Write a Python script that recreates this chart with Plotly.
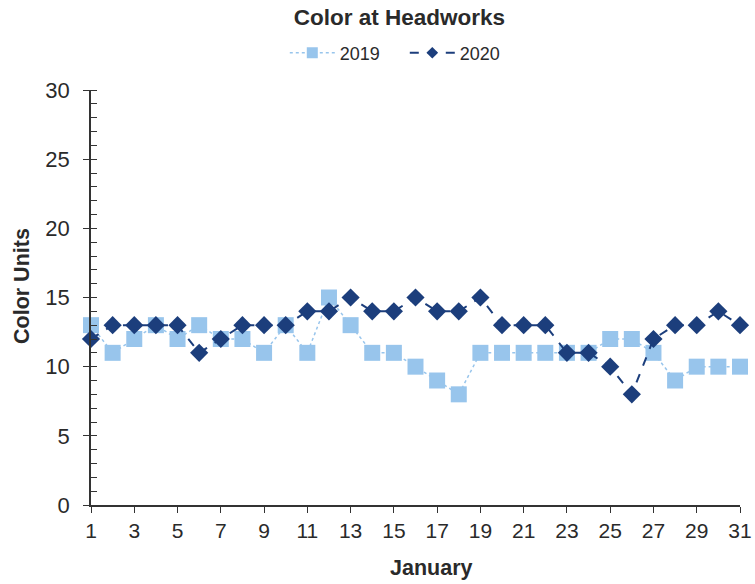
import plotly.graph_objects as go

days = list(range(1, 32))
color_2019 = [13, 11, 12, 13, 12, 13, 12, 12, 11, 13, 11, 15, 13, 11, 11, 10,
              9, 8, 11, 11, 11, 11, 11, 11, 12, 12, 11, 9, 10, 10, 10]
color_2020 = [12, 13, 13, 13, 13, 11, 12, 13, 13, 13, 14, 14, 15, 14, 14, 15,
              14, 14, 15, 13, 13, 13, 11, 11, 10, 8, 12, 13, 13, 14, 13]
x_ticks = list(range(1, 32, 2))
y_ticks = [0, 5, 10, 15, 20, 25, 30]

c19 = "#98c5ec"
c20 = "#1c3e7c"

fig = go.Figure()
fig.add_trace(go.Scatter(
    x=days, y=color_2019, name="2019", mode="lines+markers",
    line=dict(color=c19, width=1.5, dash="dot"),
    marker=dict(symbol="square", size=16, color=c19),
    cliponaxis=False, showlegend=False,
))
fig.add_trace(go.Scatter(
    x=days, y=color_2020, name="2020", mode="lines+markers",
    line=dict(color=c20, width=2, dash="dash"),
    marker=dict(symbol="diamond", size=14, color=c20),
    cliponaxis=False, showlegend=False,
))
# legend entries (smaller symbols, as in the reference legend)
fig.add_trace(go.Scatter(
    x=[None], y=[None], name="2019", mode="lines+markers",
    line=dict(color=c19, width=1.5, dash="dot"),
    marker=dict(symbol="square", size=11, color=c19),
))
fig.add_trace(go.Scatter(
    x=[None], y=[None], name="2020", mode="lines+markers",
    line=dict(color=c20, width=2, dash="dash"),
    marker=dict(symbol="diamond", size=9, color=c20),
))

font_family = "Liberation Sans, Arial, sans-serif"
fig.update_layout(
    width=755, height=584,
    margin=dict(l=91, r=15, t=90, b=79, autoexpand=False),
    paper_bgcolor="white", plot_bgcolor="white",
    font=dict(family=font_family, color="#2a2a2a", size=21),
    title=dict(text="<b>Color at Headworks</b>", x=0.529, xanchor="center",
               y=0.970, yanchor="middle", font=dict(size=22.5)),
    legend=dict(orientation="h", x=0.4835, xanchor="center", y=1.089,
                yanchor="middle", font=dict(size=18), itemwidth=45,
                entrywidth=60, tracegroupgap=0),
    showlegend=True,
    annotations=[
        dict(text="<b>January</b>", xref="paper", yref="paper",
             x=(431 - 91) / 649, y=(505 - 568) / 415,
             xanchor="center", yanchor="middle", showarrow=False,
             font=dict(size=21.5)),
        dict(text="<b>Color Units</b>", xref="paper", yref="paper",
             x=(22 - 91) / 649, y=(505 - 286) / 415, textangle=-90,
             xanchor="center", yanchor="middle", showarrow=False,
             font=dict(size=21.5)),
    ],
)
fig.update_xaxes(
    range=[1, 31], tickvals=x_ticks, ticktext=[str(v) for v in x_ticks],
    showline=True, linecolor="#333333", linewidth=1.5,
    ticks="outside", ticklen=6, tickcolor="#333333", tickwidth=1.2,
    ticklabelstandoff=0, ticklabeloverflow="allow",
    showgrid=False, zeroline=False,
    tickfont=dict(size=21),
)
fig.update_yaxes(
    range=[0, 30], tickvals=y_ticks,
    showline=True, linecolor="#333333", linewidth=1.5,
    ticks="outside", ticklen=6, tickcolor="#333333", tickwidth=1.2,
    ticklabelstandoff=9,
    minor=dict(dtick=1, ticks="inside", ticklen=6, tickcolor="#333333", tickwidth=1),
    showgrid=False, zeroline=False,
    tickfont=dict(size=22),
)
fig.write_html("out.html", config={"displayModeBar": False},
               post_script="document.body.style.margin='0';")
